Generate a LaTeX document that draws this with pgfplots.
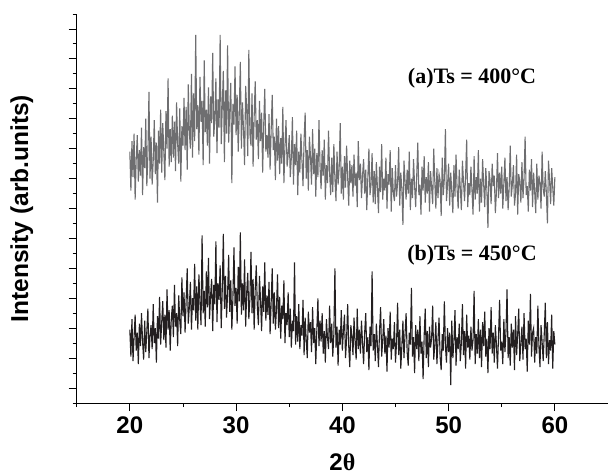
\documentclass[border=0pt]{standalone}
\usepackage{fontspec}
\setmainfont{Liberation Sans}
\newfontfamily\tnr{Liberation Serif}
\usepackage{pgfplots}
\pgfplotsset{compat=1.18}
\definecolor{xrdgray}{RGB}{110,110,112}
\definecolor{xrdblack}{RGB}{35,31,32}

\begin{document}
\begin{tikzpicture}
\begin{axis}[
    at={(0,0)}, anchor=origin,
    scale only axis,
    width=531.3pt, height=389pt,
    xmin=15, xmax=65, ymin=0, ymax=26,
    axis lines*=left,
    axis line style={line width=0.9pt},
    clip=false,
    tick align=outside,
    tick style={line width=0.9pt, black},
    major tick length=8pt,
    minor tick length=4pt,
    xtick={20,30,40,50,60},
    xticklabels={20,30,40,50,60},
    minor xtick={15,25,35,45,55,65},
    ytick={1,3,...,25},
    minor ytick={0,2,...,26},
    yticklabels={},
    xticklabel style={font=\bfseries\fontsize{24}{24}\selectfont, inner sep=0pt, anchor=north, yshift=-6pt},
    xlabel={2{\tnr θ}},
    xlabel style={font=\bfseries\fontsize{24}{24}\selectfont, at={(axis description cs:0.5,0)}, anchor=base, yshift=-67pt},
    ylabel={Intensity (arb.units)},
    ylabel style={font=\bfseries\fontsize{24.5}{24.5}\selectfont, at={(axis description cs:-0.1035,0.5)}, anchor=center},
]

% (a) Ts = 400 C
\addplot[xrdgray, line width=1.1pt] coordinates {
(20.0,16.8)(20.1,14.2)(20.2,17.5)(20.3,15.1)(20.4,18.0)(20.5,13.6)(20.6,16.3)(20.7,17.9)(20.8,14.8)(20.9,16.9)
(21.0,15.2)(21.1,18.4)(21.2,13.9)(21.3,17.1)(21.4,15.7)(21.5,19.0)(21.6,14.5)(21.7,16.6)(21.8,20.8)(21.9,15.0)
(22.0,17.8)(22.1,14.6)(22.2,16.2)(22.3,18.9)(22.4,15.3)(22.5,17.4)(22.6,13.4)(22.7,18.2)(22.8,16.0)(22.9,19.6)
(23.0,15.4)(23.1,18.7)(23.2,16.8)(23.3,14.9)(23.4,19.5)(23.5,17.0)(23.6,21.7)(23.7,15.8)(23.8,18.3)(23.9,16.1)
(24.0,19.2)(24.1,16.4)(24.2,18.8)(24.3,15.5)(24.4,20.1)(24.5,17.3)(24.6,16.0)(24.7,19.7)(24.8,14.8)(24.9,18.5)
(25.0,17.2)(25.1,20.4)(25.2,16.9)(25.3,19.8)(25.4,15.6)(25.5,21.3)(25.6,18.1)(25.7,17.0)(25.8,22.0)(25.9,16.4)
(26.0,20.7)(26.1,17.5)(26.2,24.6)(26.3,18.3)(26.4,19.9)(26.5,16.6)(26.6,21.8)(26.7,18.8)(26.8,20.2)(26.9,15.9)
(27.0,22.9)(27.1,18.1)(27.2,19.6)(27.3,17.2)(27.4,21.1)(27.5,16.0)(27.6,20.5)(27.7,18.7)(27.8,23.4)(27.9,17.8)
(28.0,19.0)(28.1,21.7)(28.2,16.7)(28.3,20.3)(28.4,18.4)(28.5,24.6)(28.6,17.3)(28.7,19.8)(28.8,22.2)(28.9,16.1)
(29.0,20.9)(29.1,18.0)(29.2,23.9)(29.3,17.4)(29.4,19.5)(29.5,21.4)(29.6,14.7)(29.7,20.0)(29.8,18.6)(29.9,22.5)
(30.0,17.9)(30.1,20.6)(30.2,16.8)(30.3,19.4)(30.4,22.8)(30.5,17.0)(30.6,20.1)(30.7,18.3)(30.8,15.9)(30.9,21.2)
(31.0,19.6)(31.1,16.5)(31.2,23.6)(31.3,18.0)(31.4,17.2)(31.5,20.7)(31.6,15.8)(31.7,19.1)(31.8,21.5)(31.9,17.6)
(32.0,18.9)(32.1,16.3)(32.2,20.2)(32.3,17.5)(32.4,19.4)(32.5,15.4)(32.6,18.6)(32.7,21.0)(32.8,16.8)(32.9,17.9)
(33.0,16.4)(33.1,19.3)(33.2,15.6)(33.3,18.2)(33.4,20.6)(33.5,16.9)(33.6,17.8)(33.7,14.9)(33.8,19.0)(33.9,16.2)
(34.0,18.5)(34.1,15.3)(34.2,17.7)(34.3,16.0)(34.4,19.8)(34.5,14.7)(34.6,17.2)(34.7,18.9)(34.8,15.8)(34.9,16.6)
(35.0,17.9)(35.1,15.1)(35.2,16.4)(35.3,19.1)(35.4,14.6)(35.5,17.3)(35.6,15.9)(35.7,18.2)(35.8,13.9)(35.9,16.8)
(36.0,15.4)(36.1,18.0)(36.2,16.2)(36.3,14.5)(36.4,17.6)(36.5,19.4)(36.6,15.0)(36.7,16.9)(36.8,14.2)(36.9,17.8)
(37.0,16.5)(37.1,14.6)(37.2,18.3)(37.3,15.3)(37.4,17.0)(37.5,13.8)(37.6,16.7)(37.7,15.1)(37.8,18.9)(37.9,15.8)
(38.0,14.3)(38.1,16.9)(38.2,15.2)(38.3,17.6)(38.4,13.6)(38.5,15.9)(38.6,14.7)(38.7,18.2)(38.8,15.4)(38.9,13.9)
(39.0,16.4)(39.1,14.1)(39.2,17.3)(39.3,15.0)(39.4,13.5)(39.5,16.8)(39.6,14.6)(39.7,15.7)(39.8,18.7)(39.9,14.0)
(40.0,15.8)(40.1,13.6)(40.2,16.5)(40.3,14.4)(40.4,17.2)(40.5,15.1)(40.6,13.2)(40.7,16.2)(40.8,14.7)(40.9,15.9)
(41.0,13.8)(41.1,16.6)(41.2,14.5)(41.3,15.4)(41.4,13.1)(41.5,17.5)(41.6,14.9)(41.7,16.0)(41.8,13.7)(41.9,15.2)
(42.0,16.3)(42.1,14.0)(42.2,15.6)(42.3,12.9)(42.4,15.1)(42.5,17.0)(42.6,13.9)(42.7,14.6)(42.8,16.7)(42.9,13.4)
(43.0,15.5)(43.1,13.3)(43.2,16.1)(43.3,14.4)(43.4,12.7)(43.5,15.8)(43.6,14.1)(43.7,17.3)(43.8,13.6)(43.9,15.0)
(44.0,14.2)(44.1,16.4)(44.2,13.0)(44.3,15.3)(44.4,14.6)(44.5,16.9)(44.6,12.8)(44.7,15.7)(44.8,14.0)(44.9,13.5)
(45.0,15.9)(45.1,13.8)(45.2,14.7)(45.3,17.1)(45.4,13.2)(45.5,15.4)(45.6,14.3)(45.7,11.9)(45.8,16.2)(45.9,14.8)
(46.0,13.6)(46.1,15.6)(46.2,14.0)(46.3,16.8)(46.4,12.9)(46.5,15.0)(46.6,13.7)(46.7,16.3)(46.8,14.5)(46.9,13.1)
(47.0,15.2)(47.1,17.4)(47.2,13.9)(47.3,14.6)(47.4,12.6)(47.5,15.8)(47.6,14.2)(47.7,16.5)(47.8,13.4)(47.9,15.1)
(48.0,14.0)(48.1,16.1)(48.2,12.8)(48.3,15.5)(48.4,14.4)(48.5,13.3)(48.6,17.0)(48.7,14.8)(48.8,13.0)(48.9,15.7)
(49.0,13.7)(49.1,15.3)(49.2,14.9)(49.3,12.5)(49.4,16.4)(49.5,13.9)(49.6,15.0)(49.7,18.3)(49.8,13.5)(49.9,14.6)
(50.0,16.0)(50.1,13.2)(50.2,15.4)(50.3,14.1)(50.4,12.7)(50.5,15.9)(50.6,13.8)(50.7,16.6)(50.8,14.3)(50.9,13.0)
(51.0,15.6)(51.1,14.4)(51.2,12.9)(51.3,16.2)(51.4,14.8)(51.5,13.5)(51.6,15.2)(51.7,17.6)(51.8,13.1)(51.9,14.7)
(52.0,13.9)(52.1,15.8)(52.2,14.2)(52.3,12.6)(52.4,16.5)(52.5,13.6)(52.6,15.1)(52.7,14.0)(52.8,16.9)(52.9,12.8)
(53.0,15.0)(53.1,13.4)(53.2,16.3)(53.3,14.6)(53.4,13.1)(53.5,15.7)(53.6,14.3)(53.7,11.7)(53.8,15.5)(53.9,14.9)
(54.0,13.3)(54.1,16.0)(54.2,14.5)(54.3,15.2)(54.4,12.7)(54.5,14.1)(54.6,16.7)(54.7,13.7)(54.8,15.4)(54.9,14.0)
(55.0,15.8)(55.1,13.0)(55.2,14.7)(55.3,16.4)(55.4,13.5)(55.5,15.1)(55.6,12.9)(55.7,14.4)(55.8,17.2)(55.9,13.8)
(56.0,14.6)(56.1,15.9)(56.2,13.2)(56.3,14.0)(56.4,16.6)(56.5,12.6)(56.6,15.3)(56.7,14.8)(56.8,13.4)(56.9,16.1)
(57.0,13.7)(57.1,15.0)(57.2,17.8)(57.3,13.9)(57.4,14.5)(57.5,12.8)(57.6,15.6)(57.7,14.2)(57.8,16.3)(57.9,13.1)
(58.0,15.4)(58.1,14.1)(58.2,12.7)(58.3,16.0)(58.4,13.6)(58.5,15.2)(58.6,14.7)(58.7,13.0)(58.8,16.8)(58.9,14.3)
(59.0,13.8)(59.1,15.5)(59.2,14.0)(59.3,12.0)(59.4,16.2)(59.5,14.9)(59.6,13.3)(59.7,15.7)(59.8,14.4)(59.9,13.2)
(60.0,15.1)
};

% (b) Ts = 450 C
\addplot[xrdblack, line width=1.1pt] coordinates {
(20.0,4.9)(20.1,3.1)(20.2,5.6)(20.3,2.8)(20.4,4.4)(20.5,5.9)(20.6,3.5)(20.7,4.7)(20.8,2.6)(20.9,5.3)
(21.0,3.8)(21.1,6.0)(21.2,4.1)(21.3,2.9)(21.4,5.5)(21.5,3.4)(21.6,4.8)(21.7,6.3)(21.8,3.0)(21.9,4.5)
(22.0,5.2)(22.1,3.6)(22.2,6.6)(22.3,4.0)(22.4,5.0)(22.5,2.7)(22.6,5.8)(22.7,4.3)(22.8,7.1)(22.9,3.9)
(23.0,5.4)(23.1,6.8)(23.2,4.2)(23.3,5.9)(23.4,3.7)(23.5,7.6)(23.6,4.9)(23.7,6.2)(23.8,3.5)(23.9,5.6)
(24.0,6.5)(24.1,4.4)(24.2,7.9)(24.3,5.1)(24.4,6.0)(24.5,3.8)(24.6,7.2)(24.7,5.5)(24.8,4.6)(24.9,8.4)
(25.0,5.8)(25.1,7.4)(25.2,4.7)(25.3,6.9)(25.4,9.0)(25.5,5.3)(25.6,6.4)(25.7,8.1)(25.8,4.9)(25.9,7.0)
(26.0,6.2)(26.1,9.3)(26.2,5.5)(26.3,7.8)(26.4,4.9)(26.5,8.6)(26.6,6.7)(26.7,5.2)(26.8,11.2)(26.9,6.0)
(27.0,7.5)(27.1,5.1)(27.2,8.8)(27.3,6.4)(27.4,9.7)(27.5,5.6)(27.6,7.2)(27.7,8.3)(27.8,4.8)(27.9,7.9)
(28.0,6.6)(28.1,10.8)(28.2,5.4)(28.3,8.0)(28.4,6.9)(28.5,9.2)(28.6,5.0)(28.7,7.6)(28.8,11.3)(28.9,6.3)
(29.0,8.5)(29.1,5.7)(29.2,7.3)(29.3,9.9)(29.4,6.1)(29.5,8.2)(29.6,4.9)(29.7,7.0)(29.8,10.4)(29.9,6.5)
(30.0,7.7)(30.1,5.3)(30.2,9.1)(30.3,6.8)(30.4,11.4)(30.5,5.9)(30.6,8.0)(30.7,6.2)(30.8,9.6)(30.9,5.1)
(31.0,7.4)(31.1,8.7)(31.2,5.6)(31.3,7.0)(31.4,10.1)(31.5,6.0)(31.6,8.3)(31.7,4.9)(31.8,7.6)(31.9,9.2)
(32.0,6.4)(32.1,5.2)(32.2,8.5)(32.3,6.9)(32.4,4.8)(32.5,7.8)(32.6,6.1)(32.7,9.4)(32.8,5.5)(32.9,7.2)
(33.0,5.9)(33.1,8.1)(33.2,4.6)(33.3,6.7)(33.4,9.0)(33.5,5.3)(33.6,7.4)(33.7,4.9)(33.8,6.3)(33.9,8.6)
(34.0,5.0)(34.1,7.1)(34.2,4.3)(34.3,6.5)(34.4,5.6)(34.5,8.2)(34.6,4.0)(34.7,6.0)(34.8,5.2)(34.9,7.4)
(35.0,4.4)(35.1,6.3)(35.2,3.7)(35.3,5.5)(35.4,4.8)(35.5,9.4)(35.6,3.9)(35.7,5.8)(35.8,4.1)(35.9,6.6)
(36.0,3.6)(36.1,5.2)(36.2,4.5)(36.3,6.9)(36.4,3.2)(36.5,5.7)(36.6,4.2)(36.7,3.0)(36.8,6.1)(36.9,4.7)
(37.0,5.4)(37.1,3.4)(37.2,6.4)(37.3,4.0)(37.4,5.0)(37.5,2.6)(37.6,4.9)(37.7,7.0)(37.8,3.8)(37.9,5.5)
(38.0,4.1)(38.1,6.0)(38.2,3.3)(38.3,4.8)(38.4,2.7)(38.5,5.6)(38.6,4.4)(38.7,3.6)(38.8,6.5)(38.9,4.0)
(39.0,5.3)(39.1,3.1)(39.2,4.6)(39.3,9.0)(39.4,3.7)(39.5,5.1)(39.6,2.5)(39.7,4.9)(39.8,3.9)(39.9,6.2)
(40.0,3.5)(40.1,4.8)(40.2,5.9)(40.3,3.0)(40.4,4.3)(40.5,6.6)(40.6,3.8)(40.7,2.4)(40.8,5.2)(40.9,4.5)
(41.0,3.2)(41.1,5.7)(41.2,4.1)(41.3,2.9)(41.4,6.3)(41.5,3.6)(41.6,4.9)(41.7,3.3)(41.8,5.5)(41.9,4.0)
(42.0,2.6)(42.1,4.7)(42.2,6.0)(42.3,3.4)(42.4,4.4)(42.5,2.2)(42.6,5.1)(42.7,3.8)(42.8,8.8)(42.9,3.5)
(43.0,4.6)(43.1,2.8)(43.2,5.3)(43.3,3.9)(43.4,2.4)(43.5,4.8)(43.6,6.4)(43.7,3.1)(43.8,4.2)(43.9,5.6)
(44.0,3.3)(44.1,4.5)(44.2,2.1)(44.3,5.0)(44.4,3.7)(44.5,6.1)(44.6,2.9)(44.7,4.3)(44.8,3.6)(44.9,5.4)
(45.0,2.7)(45.1,4.0)(45.2,6.7)(45.3,3.2)(45.4,4.9)(45.5,2.3)(45.6,3.8)(45.7,5.5)(45.8,3.0)(45.9,4.6)
(46.0,6.0)(46.1,3.4)(46.2,2.5)(46.3,4.7)(46.4,3.9)(46.5,7.7)(46.6,3.1)(46.7,4.4)(46.8,2.0)(46.9,5.2)
(47.0,3.6)(47.1,4.9)(47.2,2.8)(47.3,5.8)(47.4,3.3)(47.5,4.1)(47.6,1.6)(47.7,4.5)(47.8,6.3)(47.9,3.0)
(48.0,4.8)(48.1,2.4)(48.2,5.1)(48.3,3.7)(48.4,4.3)(48.5,6.5)(48.6,2.9)(48.7,3.9)(48.8,5.4)(48.9,2.6)
(49.0,4.2)(49.1,5.7)(49.2,3.1)(49.3,2.2)(49.4,4.6)(49.5,3.5)(49.6,6.8)(49.7,3.8)(49.8,2.7)(49.9,5.0)
(50.0,3.4)(50.1,4.7)(50.2,1.2)(50.3,5.5)(50.4,3.0)(50.5,4.1)(50.6,6.2)(50.7,2.5)(50.8,4.4)(50.9,3.6)
(51.0,5.3)(51.1,2.8)(51.2,4.0)(51.3,6.6)(51.4,3.2)(51.5,4.8)(51.6,2.3)(51.7,5.9)(51.8,3.7)(51.9,4.5)
(52.0,2.9)(52.1,5.1)(52.2,3.5)(52.3,4.2)(52.4,7.5)(52.5,2.6)(52.6,4.6)(52.7,3.3)(52.8,5.6)(52.9,3.0)
(53.0,4.9)(53.1,2.4)(53.2,5.4)(53.3,3.8)(53.4,6.1)(53.5,3.1)(53.6,4.3)(53.7,2.0)(53.8,5.0)(53.9,3.6)
(54.0,6.4)(54.1,3.3)(54.2,4.7)(54.3,2.7)(54.4,5.2)(54.5,3.9)(54.6,2.3)(54.7,4.5)(54.8,6.9)(54.9,3.5)
(55.0,4.1)(55.1,2.6)(55.2,5.6)(55.3,3.4)(55.4,4.8)(55.5,7.6)(55.6,3.0)(55.7,4.4)(55.8,2.5)(55.9,5.3)
(56.0,3.7)(56.1,4.9)(56.2,2.2)(56.3,5.8)(56.4,3.2)(56.5,4.6)(56.6,6.3)(56.7,2.8)(56.8,4.0)(56.9,5.1)
(57.0,2.9)(57.1,6.0)(57.2,3.6)(57.3,4.3)(57.4,2.1)(57.5,5.5)(57.6,3.9)(57.7,7.3)(57.8,3.1)(57.9,4.7)
(58.0,5.0)(58.1,2.7)(58.2,4.4)(58.3,3.3)(58.4,6.5)(58.5,3.8)(58.6,2.4)(58.7,5.2)(58.8,4.1)(58.9,2.8)
(59.0,4.6)(59.1,6.7)(59.2,3.0)(59.3,5.4)(59.4,2.6)(59.5,4.2)(59.6,3.5)(59.7,5.9)(59.8,2.3)(59.9,4.8)
(60.0,3.9)
};

\node[font=\tnr\bfseries\fontsize{22}{22}\selectfont] at (axis cs:52.2,21.7) {(a)Ts = 400°C};
\node[font=\tnr\bfseries\fontsize{22}{22}\selectfont] at (axis cs:52.2,9.9) {(b)Ts = 450°C};
\end{axis}
\pgfresetboundingbox
\path (-76.7pt,-72pt) rectangle (531.3pt,403pt);
\end{tikzpicture}
\end{document}
